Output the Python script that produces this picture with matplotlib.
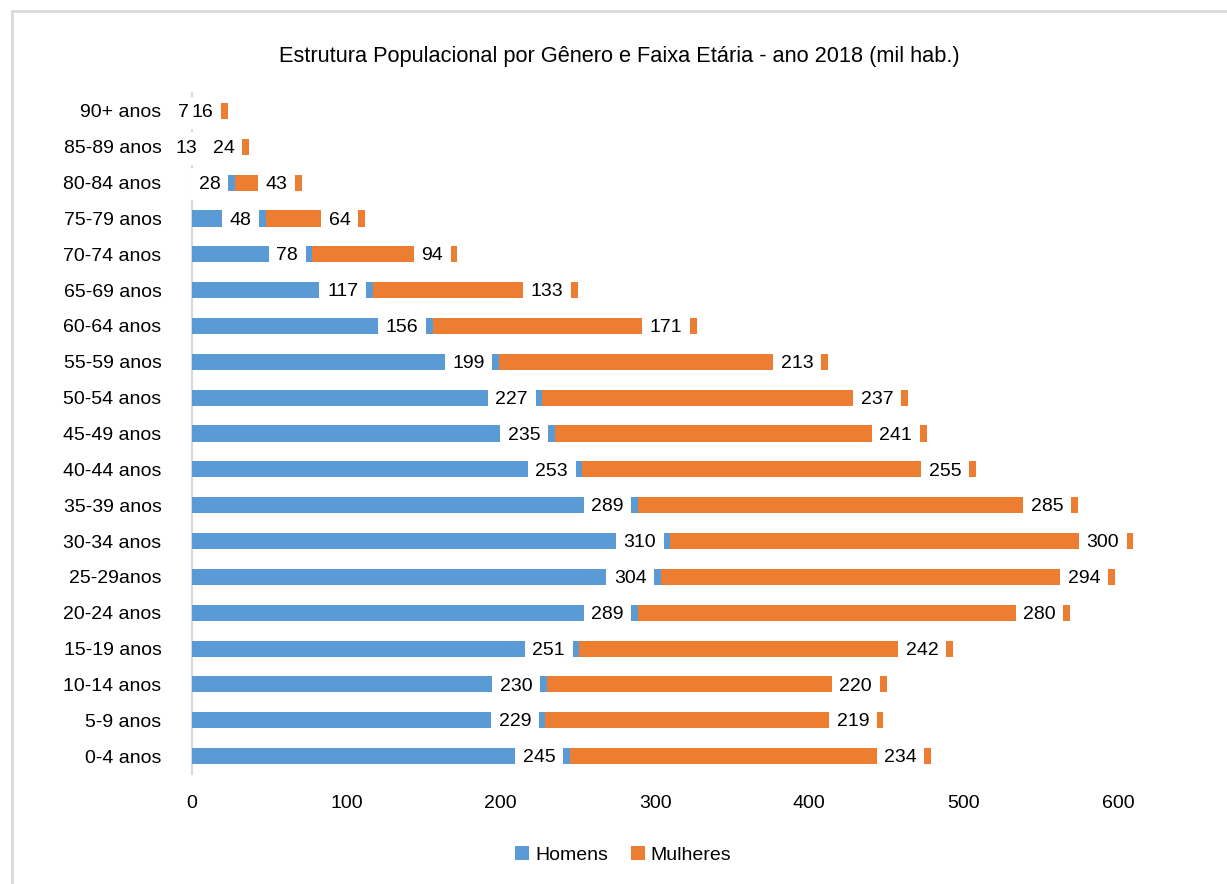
import matplotlib.pyplot as plt
from matplotlib.lines import Line2D
import numpy as np

plt.rcParams['font.family'] = ['Liberation Sans', 'DejaVu Sans']

faixas = ['0-4 anos', '5-9 anos', '10-14 anos', '15-19 anos', '20-24 anos',
          '25-29anos', '30-34 anos', '35-39 anos', '40-44 anos', '45-49 anos',
          '50-54 anos', '55-59 anos', '60-64 anos', '65-69 anos', '70-74 anos',
          '75-79 anos', '80-84 anos', '85-89 anos', '90+ anos']
homens = [245, 229, 230, 251, 289, 304, 310, 289, 253, 235,
          227, 199, 156, 117, 78, 48, 28, 13, 7]
mulheres = [234, 219, 220, 242, 280, 294, 300, 285, 255, 241,
            237, 213, 171, 133, 94, 64, 43, 24, 16]

azul = '#5B9BD5'
laranja = '#ED7D31'

fig = plt.figure(figsize=(12.27, 8.84), dpi=100)
ax = fig.add_axes([0.1565, 0.1244, 0.7547, 0.7704])

y = np.arange(len(faixas))
b1 = ax.barh(y, homens, height=0.45, color=azul, label='Homens', zorder=2,
             clip_on=False)
b2 = ax.barh(y, mulheres, left=homens, height=0.45, color=laranja,
             label='Mulheres', zorder=2, clip_on=False)

# rótulos no fim de cada segmento: primeiro o fundo branco, depois o texto
for bars in (b1, b2):
    for rect in bars:
        fim = rect.get_x() + rect.get_width()
        pos = (fim, rect.get_y() + rect.get_height() / 2)
        txt = f'{rect.get_width():.0f}'
        kw = dict(xytext=(-10.4, -1.2), textcoords='offset points', ha='right',
                  va='center', fontsize=14, annotation_clip=False, clip_on=False)
        ax.annotate(txt, pos, color='none', zorder=3,
                    bbox=dict(boxstyle='square,pad=0.39', fc='white', ec='none'), **kw)
        ax.annotate(txt, pos, color='black', zorder=5, **kw)

ax.set_xlim(0, 600)
ax.set_ylim(-0.5, len(faixas) - 0.5)
ax.set_xticks(range(0, 601, 100))
ax.set_yticks(y)
ax.set_yticklabels(faixas)
ax.tick_params(axis='both', length=0, labelsize=14)
ax.tick_params(axis='y', pad=22)
ax.tick_params(axis='x', pad=15)
for s in ('top', 'right', 'bottom'):
    ax.spines[s].set_visible(False)
ax.spines['left'].set_color('#d9d9d9')
ax.spines['left'].set_linewidth(1.5)
ax.spines['left'].set_zorder(1)

fig.suptitle('Estrutura Populacional por Gênero e Faixa Etária - ano 2018 (mil hab.)',
             x=0.505, y=0.948, fontsize=15.7)

fig.legend(handles=[b1, b2], labels=['Homens', 'Mulheres'], loc='center',
           bbox_to_anchor=(0.508, 0.033), ncol=2, frameon=False, fontsize=14,
           handlelength=0.7, handleheight=0.7, handletextpad=0.3, columnspacing=1.2)

# moldura cinza da área do gráfico
fig.add_artist(Line2D([0.0095, 0.0095], [0, 0.9875], color='#d9d9d9', lw=2,
                      transform=fig.transFigure))
fig.add_artist(Line2D([0.0095, 1], [0.9875, 0.9875], color='#d9d9d9', lw=2,
                      transform=fig.transFigure))

fig.savefig('out.png', dpi=100)
